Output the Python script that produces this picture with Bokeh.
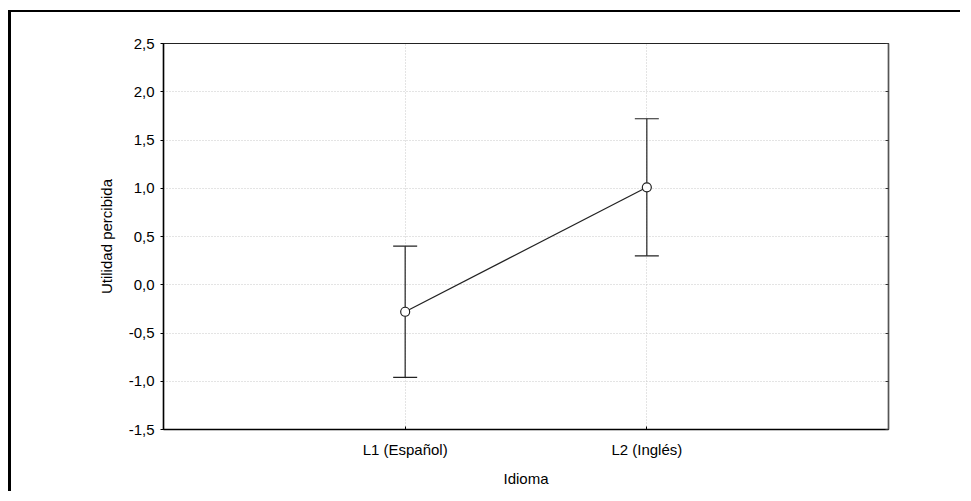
from bokeh.plotting import figure
from bokeh.models import (FixedTicker, LinearAxis, Whisker, TeeHead, ColumnDataSource, Range1d,
                          CustomJSTickFormatter)
from bokeh.embed import file_html
from bokeh.resources import INLINE

# ---- data ----
categories = ["L1 (Español)", "L2 (Inglés)"]
means = [-0.28, 1.01]
upper = [0.40, 1.72]
lower = [-0.96, 0.30]
y_ticks = [-1.5, -1.0, -0.5, 0.0, 0.5, 1.0, 1.5, 2.0, 2.5]
y_tick_labels = ["-1,5", "-1,0", "-0,5", "0,0", "0,5", "1,0", "1,5", "2,0", "2,5"]
x_label = "Idioma"
y_label = "Utilidad percibida"

xs = [i + 1 for i in range(len(categories))]
src = ColumnDataSource(dict(x=xs, mean=means, upper=upper, lower=lower))

FONT = "Liberation Sans"

p = figure(width=952, height=481, output_backend="svg", toolbar_location=None,
           x_range=Range1d(0, len(categories) + 1), y_range=Range1d(-1.5, 2.5),
           min_border_left=152, min_border_right=75, min_border_top=31, min_border_bottom=64,
           styles={"border-left": "3px solid black", "border-top": "2px solid black",
                   "margin-top": "10px", "margin-left": "8px"})
p.outline_line_color = "#222222"
p.outline_line_width = 1.2
p.background_fill_color = "white"
p.border_fill_color = "white"

# axes
p.xaxis.ticker = FixedTicker(ticks=xs)
p.xaxis.major_label_overrides = {x: c for x, c in zip(xs, categories)}
p.yaxis.ticker = FixedTicker(ticks=y_ticks)
p.yaxis.major_label_overrides = {t: l for t, l in zip(y_ticks, y_tick_labels)}
for ax in (p.xaxis[0], p.yaxis[0]):
    ax.axis_line_color = "black"
    ax.axis_line_width = 1.5
    ax.major_tick_line_color = "black"
    ax.minor_tick_line_color = None
    ax.major_label_text_font = FONT
    ax.major_label_text_font_size = "15px"
    ax.major_label_text_color = "black"
    ax.axis_label_text_font = FONT
    ax.axis_label_text_font_size = "15px"
    ax.axis_label_text_font_style = "normal"
    ax.axis_label_text_color = "black"
p.xaxis.axis_label = x_label
p.yaxis.axis_label = y_label
p.xaxis.major_tick_in = 3
p.xaxis.major_tick_out = 0
p.xaxis.major_label_standoff = 11
p.xaxis.axis_label_standoff = 9
p.yaxis.major_tick_in = 0
p.yaxis.major_tick_out = 3
p.yaxis.major_label_standoff = 6
p.yaxis.axis_label_standoff = 11

right = LinearAxis(ticker=FixedTicker(ticks=y_ticks),
                   formatter=CustomJSTickFormatter(code="return ''"),
                   major_tick_in=3, major_tick_out=0, minor_tick_line_color=None,
                   axis_line_color="#555555", axis_line_width=1.5, major_tick_line_color="#333333")
p.add_layout(right, "right")

# grid
p.xgrid.grid_line_color = "#c8c8c8"
p.xgrid.grid_line_dash = "1 2"
p.ygrid.grid_line_color = "#c8c8c8"
p.ygrid.grid_line_dash = "1 2"

# error bars
w = Whisker(source=src, base="x", upper="upper", lower="lower", dimension="height",
            line_color="#222222", line_width=1.2,
            upper_head=TeeHead(size=24, line_color="#222222", line_width=1.2),
            lower_head=TeeHead(size=24, line_color="#222222", line_width=1.2))
p.add_layout(w)

p.line("x", "mean", source=src, line_color="#222222", line_width=1.2)
p.scatter("x", "mean", source=src, size=9, marker="circle", fill_color="white",
          line_color="#222222", line_width=1.2)

open("out.html", "w").write(file_html(p, INLINE))
